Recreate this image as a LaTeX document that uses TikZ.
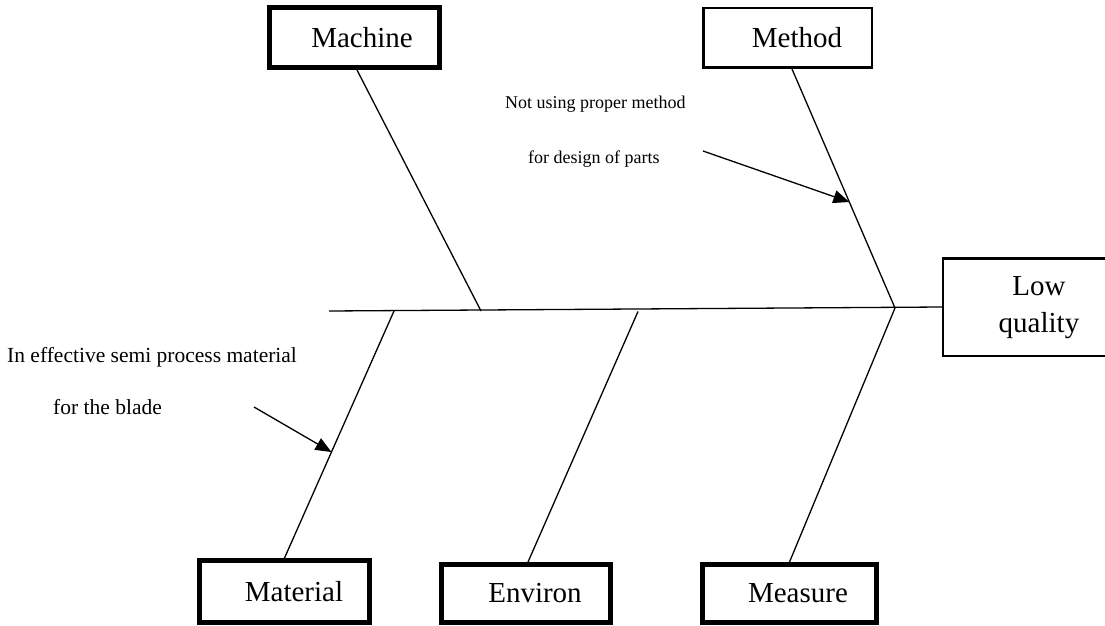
\documentclass[tikz,border=0pt]{standalone}
\usepackage{fontspec}
\setmainfont{Liberation Serif}
\usetikzlibrary{arrows.meta,calc}
\begin{document}
\begin{tikzpicture}[x=1pt,y=-1pt,
  thickbox/.style={draw=black,line width=5pt,inner sep=0pt,fill=white},
  thinbox/.style={draw=black,line width=2.5pt,inner sep=0pt,fill=white},
  boxlabel/.style={inner sep=0pt,font=\fontsize{29}{35}\selectfont},
  note/.style={inner sep=0pt,anchor=base west,font=\fontsize{21.5}{26}\selectfont},
  smallnote/.style={inner sep=0pt,anchor=base west,font=\fontsize{18}{22}\selectfont},
  bone/.style={draw=black,line width=1.3pt},
  pointer/.style={draw=black,line width=1.3pt,-{Triangle[length=16pt,width=13pt]}}]
\useasboundingbox (0,0) rectangle (1105,626);
\fill[white] (0,0) rectangle (1105,626);

% boxes
\node[thickbox,minimum width=170pt,minimum height=60pt] (machine) at (354.5,37.5) {};
\node[thinbox,minimum width=168.5pt,minimum height=59.5pt] (method) at (787.5,38) {};
\node[thinbox,minimum width=168.75pt,minimum height=97.5pt] (lowq) at (1027.6,307) {};
\node[thickbox,minimum width=170pt,minimum height=62pt] (material) at (284.5,591.5) {};
\node[thickbox,minimum width=169pt,minimum height=58pt] (environ) at (526,593.5) {};
\node[thickbox,minimum width=174pt,minimum height=58pt] (measure) at (789.5,593.5) {};

% box labels
\node[boxlabel] (tmachine) at (362,37.5) {Machine};
\node[boxlabel] (tmethod) at (797,38) {Method};
\node[boxlabel,anchor=base] (tlow) at (1039,295) {Low};
\node[boxlabel,anchor=base] (tquality) at (1039,332) {quality};
\node[boxlabel] (tmaterial) at (294,591.5) {Material};
\node[boxlabel] (tenviron) at (535,593.5) {Environ};
\node[boxlabel] (tmeasure) at (798,593.5) {Measure};

% spine and junctions
\coordinate (spineL) at (329,311);
\coordinate (jMachine) at (481,311);
\coordinate (jMaterial) at (394,311);
\coordinate (jEnviron) at (638,311.5);
\coordinate (jHead) at (895,308);
\draw[bone] (spineL) -- (lowq.west);

% bones
\draw[bone] ([xshift=2.5pt]machine.south) -- (jMachine);
\draw[bone] ([xshift=4.5pt]method.south) -- (jHead);
\draw[bone] (jHead) -- (measure.north);
\draw[bone] (jMaterial) -- (material.north);
\draw[bone] (jEnviron) -- ([xshift=2pt]environ.north);

% cause notes
\node[smallnote] (n1) at (505,108) {Not using proper method};
\node[smallnote] (n2) at (528,163) {for design of parts};
\node[note] (n3) at (7,362) {In effective semi process material};
\node[note] (n4) at (53,414) {for the blade};

% pointers
\coordinate (p1start) at (703,151);
\coordinate (p1tip) at ($([xshift=4.5pt]method.south)!0.5565!(jHead)$);
\draw[pointer] (p1start) -- (p1tip);
\coordinate (p2start) at (254,407);
\coordinate (p2tip) at ($(jMaterial)!0.571!(material.north)$);
\draw[pointer] (p2start) -- (p2tip);
\end{tikzpicture}
\end{document}
